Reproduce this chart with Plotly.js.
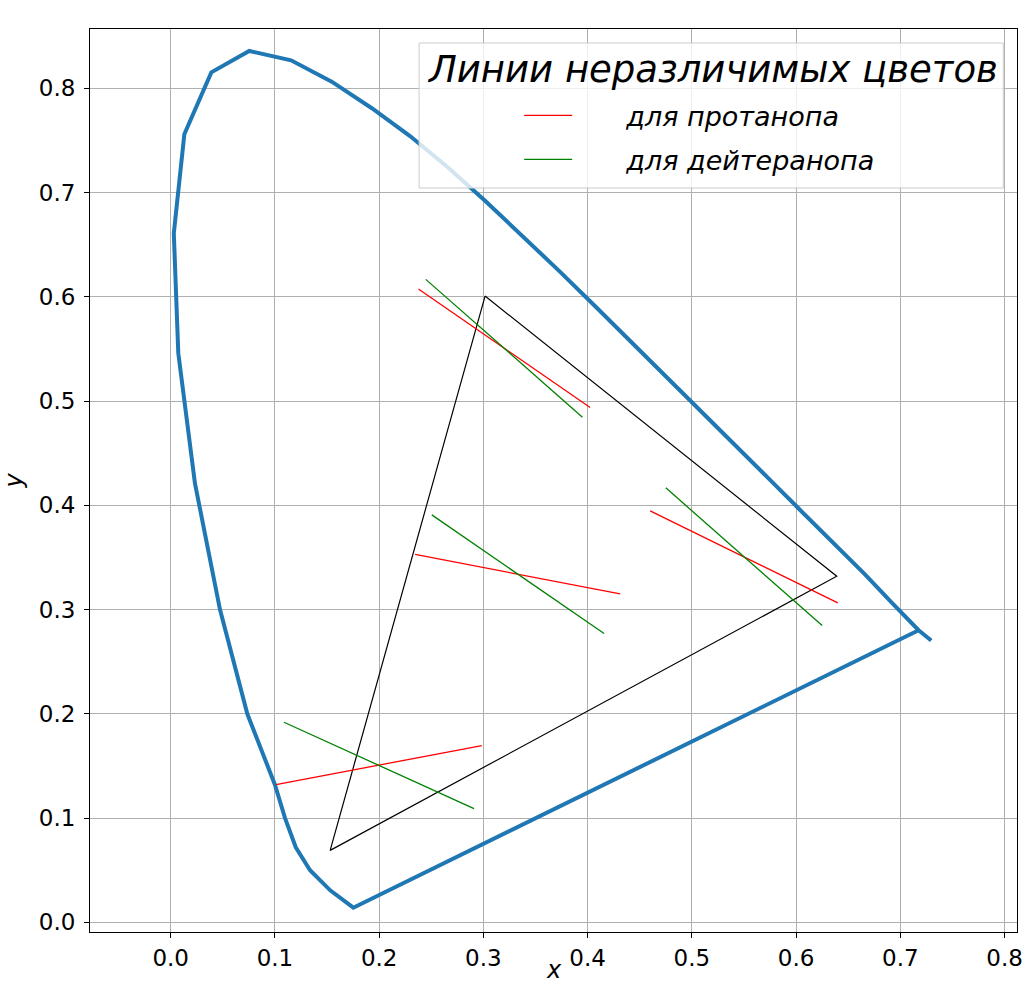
<!DOCTYPE html>
<html>
<head>
<meta charset="utf-8">
<script src="https://cdn.plot.ly/plotly-3.0.1.min.js"></script>
<style>html,body{margin:0;padding:0;background:#fff;}#chart{width:1025px;height:987px;}</style>
</head>
<body>
<div id="chart"></div>
<script>
// Spectral locus (from bottom point, up the left side, over the top, down the right side)
const locusX = [0.1752, 0.1530, 0.1337, 0.1200, 0.1097, 0.1000, 0.0735, 0.0473, 0.0233, 0.0073, 0.0030, 0.0131, 0.0390, 0.0754, 0.1155, 0.1545, 0.1930, 0.2296, 0.2658, 0.3016, 0.3373, 0.3731, 0.4087, 0.4441, 0.4788, 0.5125, 0.5448, 0.5752, 0.6029, 0.6270, 0.6658, 0.6915, 0.7175, 0.7296];
const locusY = [0.0140, 0.0307, 0.0500, 0.0720, 0.1000, 0.1320, 0.2000, 0.3000, 0.4210, 0.5460, 0.6610, 0.7560, 0.8154, 0.8359, 0.8270, 0.8065, 0.7810, 0.7543, 0.7243, 0.6923, 0.6589, 0.6245, 0.5896, 0.5547, 0.5202, 0.4866, 0.4544, 0.4242, 0.3965, 0.3725, 0.3340, 0.3070, 0.2802, 0.2703];
// Line of purples: start point on the locus, ends at the first locus point
const purpleX = [0.7175];
const purpleY = [0.2802];

// Gamut triangle
const triX = [0.3016, 0.6390, 0.1530, 0.3016];
const triY = [0.6008, 0.3320, 0.0690, 0.6008];

// Confusion lines: protanope
const protX = [[0.2377, 0.4024], [0.2345, 0.4312], [0.4600, 0.6400], [0.1010, 0.2985]];
const protY = [[0.6075, 0.4939], [0.3529, 0.3151], [0.3947, 0.3065], [0.1320, 0.1696]];
// Confusion lines: deuteranope
const deutX = [[0.2447, 0.3950], [0.2505, 0.4158], [0.4750, 0.6250], [0.1087, 0.2910]];
const deutY = [[0.6168, 0.4846], [0.3909, 0.2770], [0.4168, 0.2847], [0.1919, 0.1091]];

const tickVals = [0.0, 0.1, 0.2, 0.3, 0.4, 0.5, 0.6, 0.7, 0.8];
const tickText = ['0.0', '0.1', '0.2', '0.3', '0.4', '0.5', '0.6', '0.7', '0.8'];

const legendTitle = 'Линии неразличимых цветов';
const protName = 'для протанопа';
const deutName = 'для дейтеранопа';
const xTitle = 'x';
const yTitle = 'y';

function segs(a) {
  const out = [];
  a.forEach((s, i) => { if (i) out.push(null); out.push(s[0], s[1]); });
  return out;
}

const FONT = 'DejaVu Sans, sans-serif';
const PAD = '\u2003\u2002\u00A0';   // gap between legend line sample and its label

const traces = [
  {x: purpleX.concat(locusX), y: purpleY.concat(locusY), mode: 'lines',
   line: {color: '#1f77b4', width: 4, shape: 'linear'}, showlegend: false, hoverinfo: 'skip'},
  {x: triX, y: triY, mode: 'lines', line: {color: '#000000', width: 1.2}, showlegend: false},
  {x: segs(protX), y: segs(protY), mode: 'lines', name: PAD + protName, legendgroup: 'p',
   line: {color: '#ff0000', width: 1.3}, connectgaps: false},
  {x: segs(deutX), y: segs(deutY), mode: 'lines', name: PAD + deutName, legendgroup: 'd',
   line: {color: '#008000', width: 1.3}, connectgaps: false}
];

const axisCommon = {
  tickvals: tickVals, ticktext: tickText,
  showline: true, mirror: true, linecolor: '#000', linewidth: 1,
  ticks: 'outside', ticklen: 5, tickwidth: 1, tickcolor: '#000',
  showgrid: true, gridcolor: '#b0b0b0', gridwidth: 1,
  zeroline: false,
  tickfont: {family: FONT, size: 23, color: '#000'}
};

const layout = {
  width: 1025, height: 987, autosize: false,
  margin: {l: 90, r: 8, t: 29, b: 55, pad: 0},
  paper_bgcolor: '#fff', plot_bgcolor: '#fff',
  xaxis: Object.assign({}, axisCommon, {
    range: [-0.0774, 0.8119]
  }),
  yaxis: Object.assign({}, axisCommon, {
    range: [-0.0093, 0.857],
    ticklabelstandoff: 4,
    title: {text: yTitle, font: {family: FONT, size: 24, color: '#000', style: 'italic'}, standoff: 10}
  }),
  showlegend: true,
  legend: {
    x: 0.463, y: 0.931, xanchor: 'left', yanchor: 'top',
    bgcolor: 'rgba(0,0,0,0)', borderwidth: 0,
    itemwidth: 48, tracegroupgap: 6,
    font: {family: FONT, size: 27, color: '#000', style: 'italic'}
  },
  shapes: [{
    type: 'rect', xref: 'paper', yref: 'paper', layer: 'above',
    x0: 0.355, x1: 0.9852, y0: 0.8239, y1: 0.9845,
    fillcolor: 'rgba(255,255,255,0.8)', line: {color: '#cccccc', width: 1}
  }],
  annotations: [{
    text: legendTitle, xref: 'paper', yref: 'paper', x: 0.671, y: 0.9546,
    xanchor: 'center', yanchor: 'middle', showarrow: false,
    font: {family: FONT, size: 37, color: '#000', style: 'italic'}
  }, {
    text: xTitle, xref: 'paper', yref: 'paper', x: 0.5, y: -0.0595,
    xanchor: 'center', yanchor: 'bottom', showarrow: false,
    font: {family: FONT, size: 24, color: '#000', style: 'italic'}
  }]
};

Plotly.newPlot('chart', traces, layout, {displayModeBar: false, staticPlot: true});
</script>
</body>
</html>
